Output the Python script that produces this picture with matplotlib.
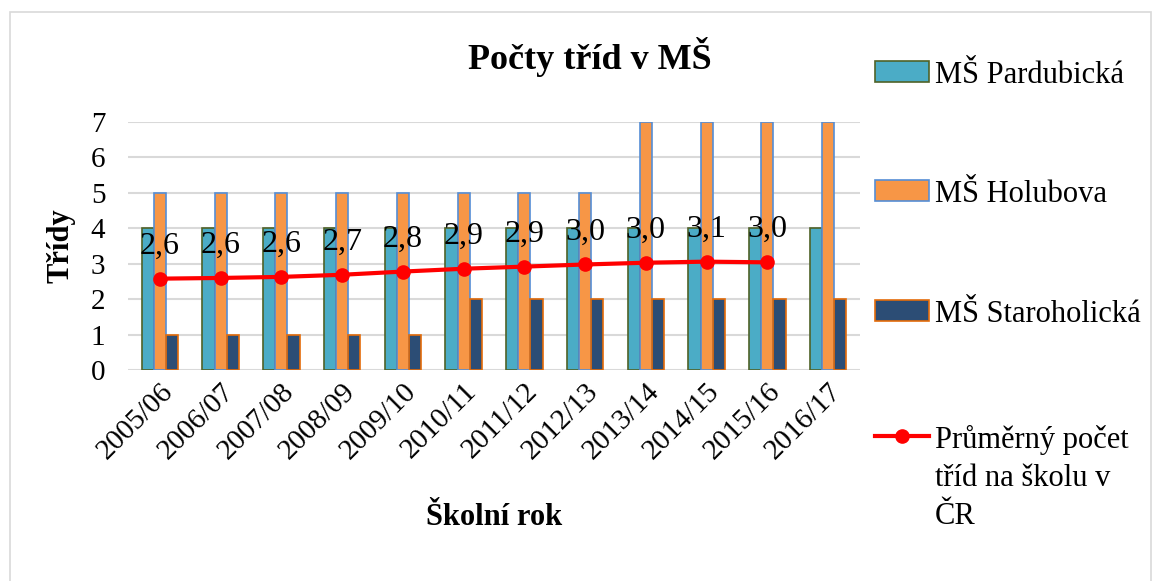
import matplotlib.pyplot as plt
import numpy as np
from matplotlib.patches import Rectangle
from matplotlib.offsetbox import HPacker

plt.rcParams["font.family"] = ["Liberation Serif", "DejaVu Serif"]

years = ["2005/06", "2006/07", "2007/08", "2008/09", "2009/10", "2010/11",
         "2011/12", "2012/13", "2013/14", "2014/15", "2015/16", "2016/17"]
pardubicka = [4, 4, 4, 4, 4, 4, 4, 4, 4, 4, 4, 4]
holubova = [5, 5, 5, 5, 5, 5, 5, 5, 7, 7, 7, 7]
staroholicka = [1, 1, 1, 1, 1, 2, 2, 2, 2, 2, 2, 2]
prumer = [2.58, 2.60, 2.63, 2.69, 2.78, 2.86, 2.92, 2.98, 3.03, 3.06, 3.04]

fig = plt.figure(figsize=(11.61, 5.81), dpi=100)
ax = fig.add_axes([0.110, 0.363, 0.631, 0.427])

x = np.arange(len(years))
w = 0.2
b1 = ax.bar(x - w, pardubicka, w, color="#4BACC6", edgecolor="#4F6228", linewidth=1.2, zorder=2)
b2 = ax.bar(x, holubova, w, color="#F79646", edgecolor="#558ED5", linewidth=1.2, zorder=2)
b3 = ax.bar(x + w, staroholicka, w, color="#2C4D75", edgecolor="#E46C0A", linewidth=1.2, zorder=2)
xl = x[:len(prumer)]
ln, = ax.plot(xl, prumer, color="red", lw=3, marker="o", markersize=9.5, zorder=3)

for xi, v in zip(xl, prumer):
    ax.annotate(f"{v:.1f}".replace(".", ","), (xi, v), xytext=(0, 13),
                textcoords="offset points", ha="center", va="bottom", fontsize=23, zorder=4)

ax.set_ylim(0, 7)
ax.set_xlim(-0.53, len(years) - 0.47)
ax.set_yticks(range(8))
ax.set_xticks(x)
ax.set_xticklabels(years, rotation=45, ha="right", rotation_mode="anchor")
ax.tick_params(axis="both", length=0, labelsize=21)
ax.tick_params(axis="y", pad=16)
ax.tick_params(axis="x", pad=6)
ax.grid(axis="y", color="#d9d9d9", lw=1.5, zorder=0)
ax.set_axisbelow(True)
for s in ax.spines.values():
    s.set_visible(False)

ax.set_ylabel("Třídy", fontsize=22, fontweight="bold", labelpad=11)
ax.set_xlabel("Školní rok", fontsize=22, fontweight="bold", labelpad=28)
fig.text(0.508, 0.902, "Počty tříd v MŠ", fontsize=26, fontweight="bold", ha="center", va="center")

# legend entries placed one by one
entries = [(b1, "MŠ Pardubická", 0.895),
           (b2, "MŠ Holubova", 0.690),
           (b3, "MŠ Staroholická", 0.484),
           (ln, "Průměrný počet\ntříd na školu v\nČR", 0.268)]
for h, lab, yy in entries:
    leg = fig.legend(handles=[h], labels=[lab], loc="upper left", bbox_to_anchor=(0.754, yy),
                     frameon=False, fontsize=22, handlelength=1.75, handletextpad=0.2,
                     borderaxespad=0, borderpad=0)
    for hp in leg.findobj(HPacker):
        hp.align = "top"
    for t in leg.get_texts():
        t.set_linespacing(1.4)

fig.patches.append(Rectangle((0.009, -0.02), 0.982, 1.0, transform=fig.transFigure,
                             fill=False, edgecolor="#d9d9d9", lw=1.2))

fig.savefig("out.png", dpi=100)
